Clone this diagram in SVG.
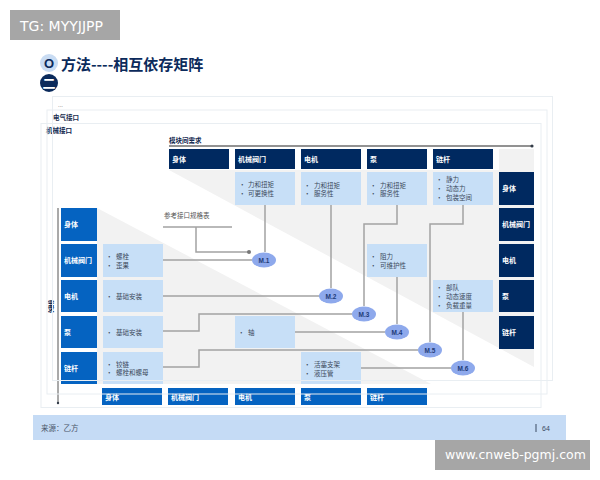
<svg xmlns="http://www.w3.org/2000/svg" width="600" height="480" viewBox="0 0 600 480">
<defs>
<marker id="dot" markerWidth="4" markerHeight="4" refX="2" refY="2"><circle cx="2" cy="2" r="1.2" fill="#333c48"/></marker>
</defs>
<style>
text{font-family:"Noto Sans CJK SC","Liberation Sans",sans-serif}
.nv{fill:#002960}.bl{fill:#0563c1}.lt{fill:#c7dff7}
.h{font-size:7px;font-weight:700;fill:#fff}
.b{font-size:6.5px;fill:#3c4a5c}
.c{fill:none;stroke:#a3a3a3;stroke-width:1.5}
.f{fill:none;stroke:#e9eef2;stroke-width:1}
.m{fill:#8ea9ec}
.mt{font-size:6.5px;font-weight:700;fill:#1d3b78;text-anchor:middle;font-family:"Liberation Sans",sans-serif}
</style>
<rect width="600" height="480" fill="#fff"/>
<g id="shade" fill="#f2f2f2">
<polygon points="169,170 499,170 499,149 534,149 534,367"/>
<polygon points="97,208 431,384 97,384"/>
</g>
<g id="banner-top"><rect x="10" y="10" width="110" height="30" fill="#a6a6a6"/><text x="20" y="31" font-size="14" fill="#fff" style="font-family:'DejaVu Sans',sans-serif">TG: MYYJJPP</text></g>
<g id="title">
<circle cx="49" cy="63" r="9" fill="#c9dcf3"/><text x="49" y="68" font-size="13" font-weight="700" fill="#0b2a5b" text-anchor="middle" style="font-family:'Liberation Sans',sans-serif">O</text>
<circle cx="49" cy="83" r="9" fill="#0b2a5b"/><text x="49" y="88" font-size="13" font-weight="700" fill="#fff" text-anchor="middle">二</text>
<text x="61" y="70" font-size="15" font-weight="700" fill="#0b2a5b">方法----相互依存矩阵</text>
</g>
<g id="connectors">
<path class="c" d="M163 227H232M196 227V252H249"/>
<path class="c" d="M265 205V252M163 260H252"/>
<path class="c" d="M331 205V288M163 296H320"/>
<path class="c" d="M397 205V224H364V306M163 331H199V314H352"/>
<path class="c" d="M397 277V324M295 332H385"/>
<path class="c" d="M463 205V224H430V342M163 367H199V350H418"/>
<path class="c" d="M463 312V360M361 368H451"/>
<circle cx="249" cy="252" r="2" fill="#777"/>
<line x1="169" y1="146" x2="532" y2="146" stroke="#6e6e6e" stroke-width="1.3" marker-end="url(#dot)"/>
<line x1="58" y1="208" x2="58" y2="403" stroke="#555" stroke-width="1" marker-end="url(#dot)"/>
</g>
<g id="top-labels">
<text x="58" y="107" font-size="6" fill="#888">...</text>
<text x="53" y="120" font-size="6.5" font-weight="700" fill="#1d2f50">电气接口</text>
<text x="46" y="133" font-size="6.5" font-weight="700" fill="#10264e">机械接口</text>
<text x="169" y="143" font-size="6.5" font-weight="700" fill="#10264e">模块间需求</text>
<text x="164" y="218" font-size="6.5" fill="#555">参考接口规格表</text>
<text x="51" y="300" font-size="6.5" font-weight="700" fill="#10264e" writing-mode="tb">需求</text>
</g>
<g id="h1"><rect class="nv" x="169" y="149" width="60" height="20"/><text class="h" x="172" y="162">身体</text></g>
<g id="h2"><rect class="nv" x="235" y="149" width="60" height="20"/><text class="h" x="238" y="162">机械阀门</text></g>
<g id="h3"><rect class="nv" x="301" y="149" width="60" height="20"/><text class="h" x="304" y="162">电机</text></g>
<g id="h4"><rect class="nv" x="367" y="149" width="60" height="20"/><text class="h" x="370" y="162">泵</text></g>
<g id="h5"><rect class="nv" x="433" y="149" width="60" height="20"/><text class="h" x="436" y="162">链杆</text></g>
<g id="r1"><rect class="nv" x="499" y="172" width="35" height="33"/><text class="h" x="502" y="191">身体</text></g>
<g id="r2"><rect class="nv" x="499" y="208" width="35" height="33"/><text class="h" x="502" y="227">机械阀门</text></g>
<g id="r3"><rect class="nv" x="499" y="244" width="35" height="33"/><text class="h" x="502" y="263">电机</text></g>
<g id="r4"><rect class="nv" x="499" y="280" width="35" height="32"/><text class="h" x="502" y="299">泵</text></g>
<g id="r5"><rect class="nv" x="499" y="316" width="35" height="33"/><text class="h" x="502" y="335">链杆</text></g>
<g id="l1"><rect class="bl" x="61" y="208" width="36" height="33"/><text class="h" x="64" y="227">身体</text></g>
<g id="l2"><rect class="bl" x="61" y="244" width="36" height="33"/><text class="h" x="64" y="263">机械阀门</text></g>
<g id="l3"><rect class="bl" x="61" y="280" width="36" height="32"/><text class="h" x="64" y="299">电机</text></g>
<g id="l4"><rect class="bl" x="61" y="316" width="36" height="32"/><text class="h" x="64" y="335">泵</text></g>
<g id="l5"><rect class="bl" x="61" y="352" width="36" height="32"/><text class="h" x="64" y="371">链杆</text></g>
<g id="b1"><rect class="bl" x="102" y="388" width="60" height="17"/><text class="h" x="105" y="400">身体</text></g>
<g id="b2"><rect class="bl" x="168" y="388" width="60" height="17"/><text class="h" x="171" y="400">机械阀门</text></g>
<g id="b3"><rect class="bl" x="235" y="388" width="60" height="17"/><text class="h" x="238" y="400">电机</text></g>
<g id="b4"><rect class="bl" x="301" y="388" width="60" height="17"/><text class="h" x="304" y="400">泵</text></g>
<g id="b5"><rect class="bl" x="367" y="388" width="60" height="17"/><text class="h" x="370" y="400">链杆</text></g>
<g id="c1"><rect class="lt" x="235" y="172" width="60" height="33"/><text class="b" x="239" y="187">•</text><text class="b" x="248" y="187">力和扭矩</text><text class="b" x="239" y="196">•</text><text class="b" x="248" y="196">可更换性</text></g>
<g id="c2"><rect class="lt" x="301" y="172" width="60" height="33"/><text class="b" x="304" y="188">•</text><text class="b" x="314" y="188">力和扭矩</text><text class="b" x="304" y="196">•</text><text class="b" x="314" y="196">服务性</text></g>
<g id="c3"><rect class="lt" x="367" y="172" width="60" height="33"/><text class="b" x="370" y="188">•</text><text class="b" x="380" y="188">力和扭矩</text><text class="b" x="370" y="196">•</text><text class="b" x="380" y="196">服务性</text></g>
<g id="c4"><rect class="lt" x="433" y="172" width="60" height="33"/><text class="b" x="436" y="182">•</text><text class="b" x="446" y="182">静力</text><text class="b" x="436" y="191">•</text><text class="b" x="446" y="191">动态力</text><text class="b" x="436" y="200">•</text><text class="b" x="446" y="200">包装空间</text></g>
<g id="c5"><rect class="lt" x="367" y="244" width="60" height="33"/><text class="b" x="370" y="259">•</text><text class="b" x="380" y="259">阻力</text><text class="b" x="370" y="268">•</text><text class="b" x="380" y="268">可维护性</text></g>
<g id="c6"><rect class="lt" x="433" y="280" width="60" height="32"/><text class="b" x="436" y="290">•</text><text class="b" x="446" y="290">部队</text><text class="b" x="436" y="299">•</text><text class="b" x="446" y="299">动态速度</text><text class="b" x="436" y="308">•</text><text class="b" x="446" y="308">负载重量</text></g>
<g id="c7"><rect class="lt" x="103" y="244" width="60" height="33"/><text class="b" x="106" y="259">•</text><text class="b" x="116" y="259">螺栓</text><text class="b" x="106" y="268">•</text><text class="b" x="116" y="268">歪果</text></g>
<g id="c8"><rect class="lt" x="103" y="280" width="60" height="32"/><text class="b" x="106" y="299">•</text><text class="b" x="116" y="299">基础安装</text></g>
<g id="c9"><rect class="lt" x="103" y="316" width="60" height="32"/><text class="b" x="106" y="335">•</text><text class="b" x="116" y="335">基础安装</text></g>
<g id="c10"><rect class="lt" x="103" y="352" width="60" height="32"/><text class="b" x="106" y="367">•</text><text class="b" x="116" y="367">铰链</text><text class="b" x="106" y="375">•</text><text class="b" x="116" y="375">螺栓和螺母</text></g>
<g id="c11"><rect class="lt" x="235" y="316" width="60" height="32"/><text class="b" x="238" y="335">•</text><text class="b" x="248" y="335">轴</text></g>
<g id="c12"><rect class="lt" x="301" y="352" width="60" height="32"/><text class="b" x="304" y="367">•</text><text class="b" x="314" y="367">活塞支架</text><text class="b" x="304" y="376">•</text><text class="b" x="314" y="376">液压管</text></g>
<g id="m1"><ellipse class="m" cx="264" cy="260" rx="12" ry="7.5"/><text class="mt" x="264" y="263">M.1</text></g>
<g id="m2"><ellipse class="m" cx="331" cy="296" rx="12" ry="7.5"/><text class="mt" x="331" y="299">M.2</text></g>
<g id="m3"><ellipse class="m" cx="364" cy="314" rx="12" ry="7.5"/><text class="mt" x="364" y="317">M.3</text></g>
<g id="m4"><ellipse class="m" cx="397" cy="332" rx="12" ry="7.5"/><text class="mt" x="397" y="335">M.4</text></g>
<g id="m5"><ellipse class="m" cx="430" cy="350" rx="12" ry="7.5"/><text class="mt" x="430" y="353">M.5</text></g>
<g id="m6"><ellipse class="m" cx="463" cy="368" rx="12" ry="7.5"/><text class="mt" x="463" y="371">M.6</text></g>
<g id="frames">
<rect class="f" x="52.5" y="96.5" width="500" height="284"/>
<rect class="f" x="47" y="110" width="500" height="284"/>
<rect class="f" x="41" y="123.500" width="500" height="284"/>
</g>
<g id="footer">
<rect x="33" y="415" width="533" height="25" fill="#c5dbf5"/>
<text x="41" y="431" font-size="7.500" fill="#4a5568">来源：乙方</text>
<rect x="535.500" y="424" width="1" height="8" fill="#3a4a63"/>
<text x="542" y="431" font-size="7" fill="#3a4a63" style="font-family:'Liberation Sans',sans-serif">64</text>
</g>
<g id="banner-bottom"><rect x="435" y="440" width="155" height="30" fill="#a6a6a6"/><text x="445" y="459" font-size="12.500" fill="#fff" style="font-family:'DejaVu Sans',sans-serif">www.cnweb-pgmj.com</text></g>
</svg>
